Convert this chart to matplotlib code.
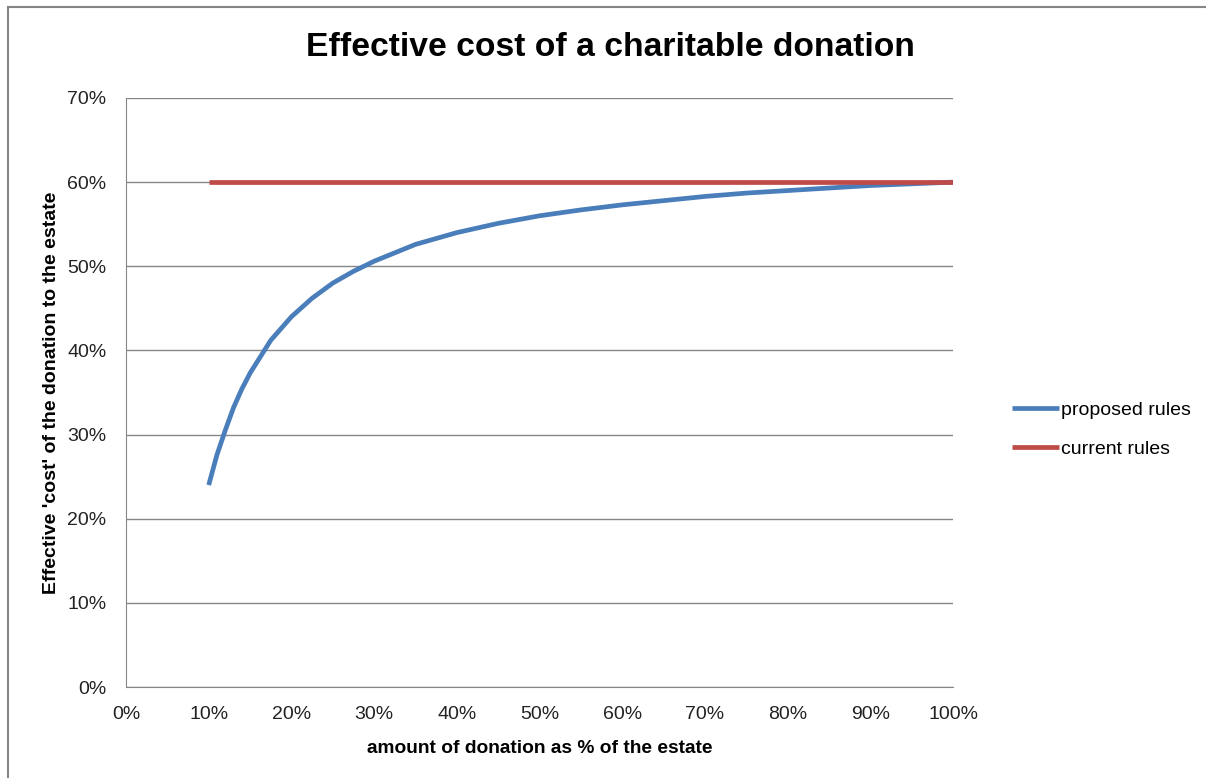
import matplotlib.pyplot as plt
from matplotlib.patches import Rectangle
from matplotlib.ticker import FuncFormatter

plt.rcParams['font.family'] = ['Liberation Sans', 'DejaVu Sans']

# values (% of estate -> effective cost %)
donation = [10, 11, 12, 13, 14, 15, 17.5, 20, 22.5, 25, 27.5, 30, 35, 40, 45,
            50, 55, 60, 65, 70, 75, 80, 85, 90, 95, 100]
proposed = [24.0, 27.6, 30.5, 33.2, 35.4, 37.3, 41.2, 44.0, 46.2, 48.0, 49.4, 50.6,
            52.6, 54.0, 55.1, 56.0, 56.7, 57.3, 57.8, 58.3, 58.7, 59.0, 59.3,
            59.6, 59.8, 60.0]
current_x = [10, 100]
current = [60, 60]

fig = plt.figure(figsize=(12.06, 7.78), dpi=100)
ax = fig.add_axes([126/1206, 1-687/778, (953-126)/1206, (687-98)/778])

# outer chart border (only top/left visible in the crop)
fig.patches.append(Rectangle((8/1206, -0.1), 1.2, 1.1 - 7/778,
                             transform=fig.transFigure, fill=False,
                             edgecolor='#868686', linewidth=1.5))

ax.plot(donation, proposed, color='#4a7ebb', lw=3.4, label='proposed rules',
        solid_capstyle='butt')
ax.plot(current_x, current, color='#be4b48', lw=3.4, label='current rules',
        solid_capstyle='butt')

ax.set_xlim(0, 100)
ax.set_ylim(0, 70)
ax.set_xticks(range(0, 101, 10))
ax.set_yticks(range(0, 71, 10))
pct = FuncFormatter(lambda v, p: '%d%%' % v)
ax.xaxis.set_major_formatter(pct)
ax.yaxis.set_major_formatter(pct)
ax.tick_params(length=0, labelsize=14, colors='#222222')
ax.tick_params(axis='x', pad=14)
ax.tick_params(axis='y', pad=14)
ax.grid(axis='y', color='#868686', lw=1)
ax.set_axisbelow(True)
for s in ['top', 'right']:
    ax.spines[s].set_visible(False)
for s in ['left', 'bottom']:
    ax.spines[s].set_color('#868686')

fig.text(610/1206, 1-48/778, 'Effective cost of a charitable donation',
         ha='center', va='center', fontsize=24.2, fontweight='bold')
ax.set_xlabel('amount of donation as % of the estate', fontsize=13.8,
              fontweight='bold', labelpad=12)
ax.set_ylabel("Effective 'cost' of the donation to the estate", fontsize=14,
              fontweight='bold', labelpad=5)

ax.legend(loc='center left', bbox_to_anchor=(1.05, 0.437), frameon=False,
          fontsize=14, handlelength=2.4, handletextpad=0.15, labelspacing=1.1)

fig.savefig('out.png', dpi=100)
